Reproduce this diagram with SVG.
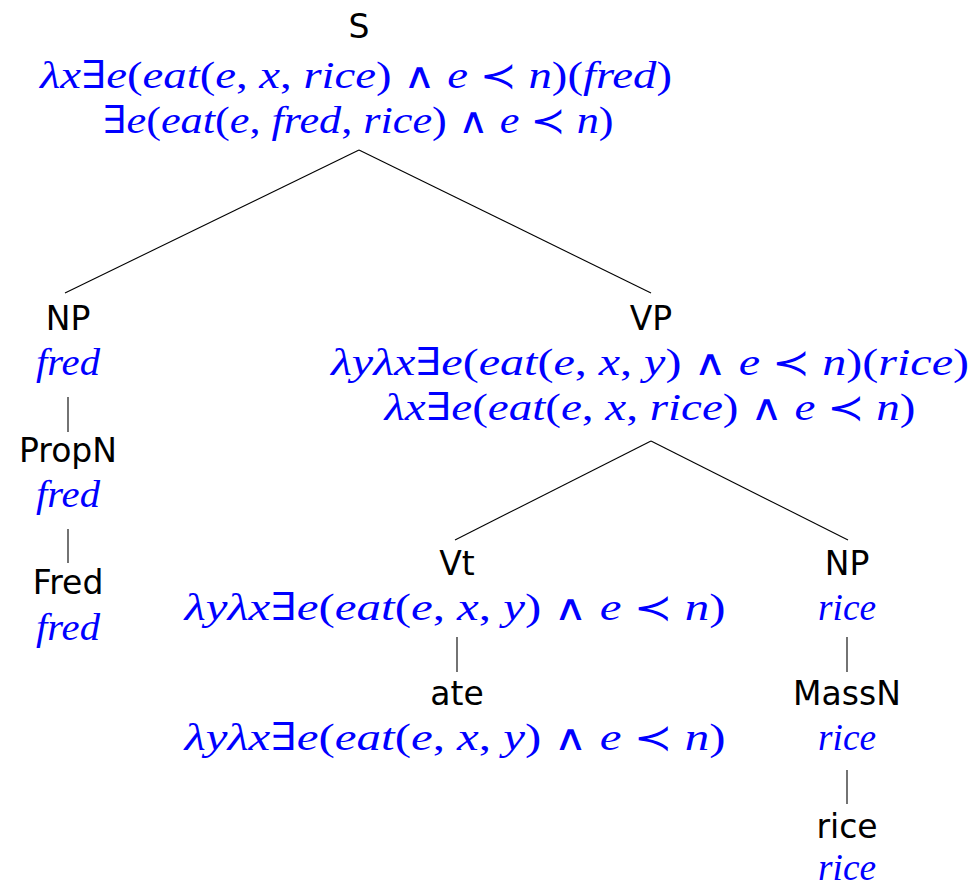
<svg xmlns="http://www.w3.org/2000/svg" width="976" height="887" viewBox="0 0 976 887">
<style>
.cat{font-family:"DejaVu Sans","Liberation Sans",sans-serif;font-size:33px;fill:#000;text-anchor:middle}
.sem{font-family:"Liberation Serif","DejaVu Serif",serif;font-style:italic;font-size:38px;fill:#0000ff;text-anchor:middle}
.u{font-style:normal}
.op{font-style:normal;font-family:"DejaVu Sans",sans-serif;font-size:36px}
.edge{stroke:#000;stroke-width:1.1;fill:none}
</style>
<rect width="976" height="887" fill="#fff"/>
<g id="connectors">
<line class="edge" x1="359" y1="150" x2="65" y2="293"/>
<line class="edge" x1="359" y1="150" x2="651" y2="293"/>
<line class="edge" x1="68" y1="397" x2="68" y2="432"/>
<line class="edge" x1="68" y1="529" x2="68" y2="563"/>
<line class="edge" x1="651" y1="441" x2="455" y2="540"/>
<line class="edge" x1="651" y1="441" x2="848" y2="540"/>
<line class="edge" x1="457" y1="637" x2="457" y2="672"/>
<line class="edge" x1="847" y1="637" x2="847" y2="672"/>
<line class="edge" x1="847" y1="770" x2="847" y2="804"/>
</g>
<g id="node-S">
<text class="cat" x="359" y="38">S</text>
<text class="sem" x="356" y="88" textLength="632" lengthAdjust="spacingAndGlyphs">λx<tspan class="u">∃</tspan>e<tspan class="u">(</tspan>eat<tspan class="u">(</tspan>e<tspan class="u">, </tspan>x<tspan class="u">, </tspan>rice<tspan class="u">) </tspan><tspan class="op">∧</tspan> e <tspan class="op">≺</tspan> n<tspan class="u">)(</tspan>fred<tspan class="u">)</tspan></text>
<text class="sem" x="358" y="133" textLength="511" lengthAdjust="spacingAndGlyphs"><tspan class="u">∃</tspan>e<tspan class="u">(</tspan>eat<tspan class="u">(</tspan>e<tspan class="u">, </tspan>fred<tspan class="u">, </tspan>rice<tspan class="u">) </tspan><tspan class="op">∧</tspan> e <tspan class="op">≺</tspan> n<tspan class="u">)</tspan></text>
</g>
<g id="node-NP1">
<text class="cat" x="68" y="330">NP</text>
<text class="sem" x="68" y="375" textLength="64" lengthAdjust="spacingAndGlyphs">fred</text>
</g>
<g id="node-PropN">
<text class="cat" x="68" y="462">PropN</text>
<text class="sem" x="68" y="507" textLength="64" lengthAdjust="spacingAndGlyphs">fred</text>
</g>
<g id="node-Fred">
<text class="cat" x="68" y="594">Fred</text>
<text class="sem" x="68" y="640" textLength="64" lengthAdjust="spacingAndGlyphs">fred</text>
</g>
<g id="node-VP">
<text class="cat" x="651" y="330">VP</text>
<text class="sem" x="650" y="375" textLength="638" lengthAdjust="spacingAndGlyphs">λyλx<tspan class="u">∃</tspan>e<tspan class="u">(</tspan>eat<tspan class="u">(</tspan>e<tspan class="u">, </tspan>x<tspan class="u">, </tspan>y<tspan class="u">) </tspan><tspan class="op">∧</tspan> e <tspan class="op">≺</tspan> n<tspan class="u">)(</tspan>rice<tspan class="u">)</tspan></text>
<text class="sem" x="650" y="420" textLength="531" lengthAdjust="spacingAndGlyphs">λx<tspan class="u">∃</tspan>e<tspan class="u">(</tspan>eat<tspan class="u">(</tspan>e<tspan class="u">, </tspan>x<tspan class="u">, </tspan>rice<tspan class="u">) </tspan><tspan class="op">∧</tspan> e <tspan class="op">≺</tspan> n<tspan class="u">)</tspan></text>
</g>
<g id="node-Vt">
<text class="cat" x="457" y="575">Vt</text>
<text class="sem" x="455" y="620" textLength="541" lengthAdjust="spacingAndGlyphs">λyλx<tspan class="u">∃</tspan>e<tspan class="u">(</tspan>eat<tspan class="u">(</tspan>e<tspan class="u">, </tspan>x<tspan class="u">, </tspan>y<tspan class="u">) </tspan><tspan class="op">∧</tspan> e <tspan class="op">≺</tspan> n<tspan class="u">)</tspan></text>
</g>
<g id="node-ate">
<text class="cat" x="457" y="705">ate</text>
<text class="sem" x="455" y="750" textLength="541" lengthAdjust="spacingAndGlyphs">λyλx<tspan class="u">∃</tspan>e<tspan class="u">(</tspan>eat<tspan class="u">(</tspan>e<tspan class="u">, </tspan>x<tspan class="u">, </tspan>y<tspan class="u">) </tspan><tspan class="op">∧</tspan> e <tspan class="op">≺</tspan> n<tspan class="u">)</tspan></text>
</g>
<g id="node-NP2">
<text class="cat" x="847" y="575">NP</text>
<text class="sem" x="847" y="620" textLength="58" lengthAdjust="spacingAndGlyphs">rice</text>
</g>
<g id="node-MassN">
<text class="cat" x="847" y="705">MassN</text>
<text class="sem" x="847" y="750" textLength="58" lengthAdjust="spacingAndGlyphs">rice</text>
</g>
<g id="node-rice">
<text class="cat" x="847" y="838">rice</text>
<text class="sem" x="847" y="880" textLength="58" lengthAdjust="spacingAndGlyphs">rice</text>
</g>
</svg>
